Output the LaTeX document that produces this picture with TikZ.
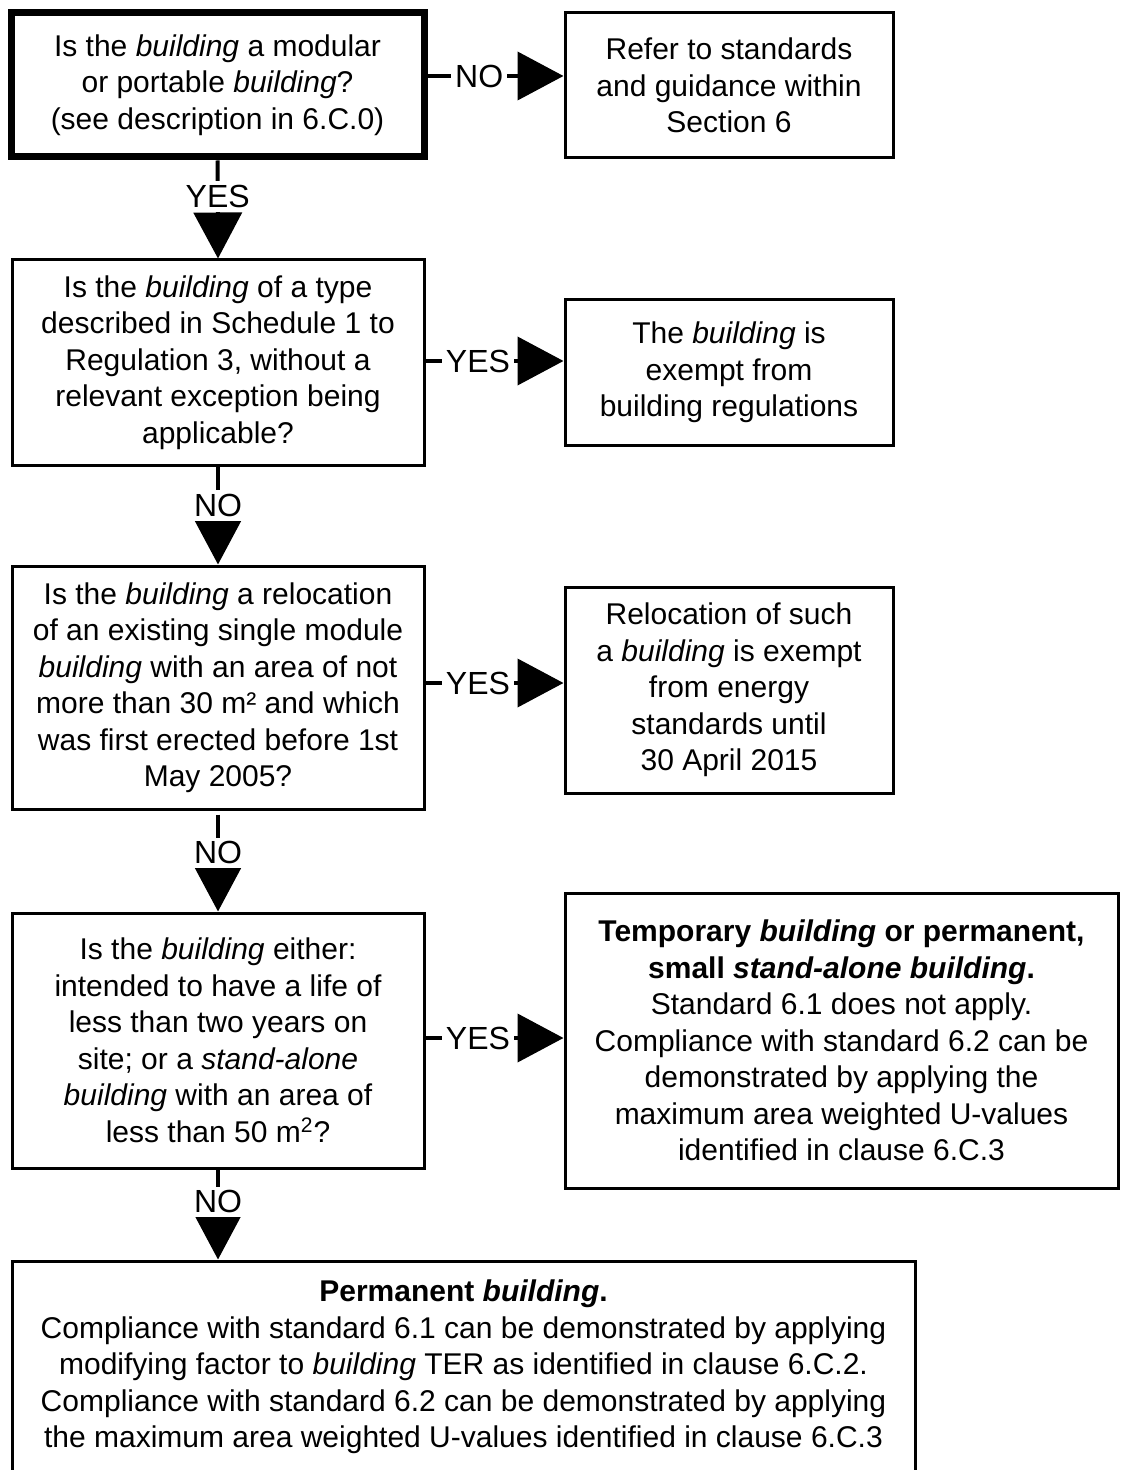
\documentclass[tikz,border=0pt]{standalone}
\usepackage{fontspec}
\setmainfont{Liberation Sans}
\usetikzlibrary{arrows.meta}
\begin{document}
\begin{tikzpicture}[x=0.5pt,y=-0.5pt,
  box/.style={draw, line width=1.5pt, rectangle, align=center, inner sep=0pt,
    font=\fontsize{15}{18.25}\selectfont},
  arr/.style={line width=2pt, -{Triangle[length=23pt,width=24pt]}},
  lab/.style={fill=white, inner sep=2pt, font=\fontsize{16}{18}\selectfont},
]
\useasboundingbox (0,0) rectangle (1121,1470);
\clip (0,0) rectangle (1121,1470);

\node[box, line width=3.5pt, minimum width=206.5pt, minimum height=72pt] (b1) at (217.5,85)
  {Is the \textit{building} a modular\\ or portable \textit{building}?\\ (see description in 6.C.0)};
\node[box, minimum width=164pt, minimum height=72.5pt] (b2) at (729,85.5)
  {Refer to standards\\ and guidance within\\ Section 6};
\node[box, minimum width=206pt, minimum height=102.5pt] (b3) at (218,362.5)
  {Is the \textit{building} of a type\\ described in Schedule 1 to\\ Regulation 3, without a\\ relevant exception being\\ applicable?};
\node[box, minimum width=164pt, minimum height=72.5pt] (b4) at (729,372.5)
  {The \textit{building} is\\ exempt from\\ building regulations};
\node[box, minimum width=206pt, minimum height=121.5pt] (b5) at (218,687.5)
  {Is the \textit{building} a relocation\\ of an existing single module\\ \textit{building} with an area of not\\ more than 30 m² and which\\ was first erected before 1st\\ May 2005?};
\node[box, minimum width=164pt, minimum height=103pt] (b6) at (729,690)
  {Relocation of such\\ a \textit{building} is exempt\\ from energy\\ standards until\\ 30 April 2015};
\node[box, minimum width=206pt, minimum height=127.5pt] (b7) at (218,1040.5)
  {Is the \textit{building} either:\\ intended to have a life of\\ less than two years on\\ site; or a \textit{stand-alone}\\ \textit{building} with an area of\\ less than 50 m\textsuperscript{2}?};
\node[box, minimum width=276.5pt, minimum height=147.5pt] (b8) at (841.5,1040.5)
  {\textbf{Temporary \textit{building} or permanent,}\\ \textbf{small \textit{stand-alone building}.}\\ Standard 6.1 does not apply.\\ Compliance with standard 6.2 can be\\ demonstrated by applying the\\ maximum area weighted U-values\\ identified in clause 6.C.3};
\node[box, minimum width=451.5pt, minimum height=106pt] (b9) at (463.5,1367)
  {\textbf{Permanent \textit{building}.}\\ Compliance with standard 6.1 can be demonstrated by applying\\ modifying factor to \textit{building} TER as identified in clause 6.C.2.\\ Compliance with standard 6.2 can be demonstrated by applying\\ the maximum area weighted U-values identified in clause 6.C.3};

\draw[arr] ([yshift=4.5pt]b1.east) -- node[lab, pos=0.38]{NO} ([yshift=4.5pt]b1.east -| b2.west);
\draw[arr] ([yshift=0.75pt]b3.east) -- node[lab, pos=0.38]{YES} ([yshift=0.75pt]b3.east -| b4.west);
\draw[arr] ([yshift=2.25pt]b5.east) -- node[lab, pos=0.38]{YES} ([yshift=2.25pt]b5.east -| b6.west);
\draw[arr] ([yshift=1.25pt]b7.east) -- node[lab, pos=0.38]{YES} ([yshift=1.25pt]b7.east -| b8.west);

\draw[arr] (b1.south) -- node[lab, pos=0.37]{YES} (b3.north);
\draw[arr] (b3.south) -- node[lab, pos=0.40]{NO} (b5.north);
\draw[arr, shorten <=2pt] (b5.south) -- node[lab, pos=0.42]{NO} (b7.north);
\draw[arr] (b7.south) -- node[lab, pos=0.36]{NO} (b7.south |- b9.north);
\end{tikzpicture}
\end{document}
